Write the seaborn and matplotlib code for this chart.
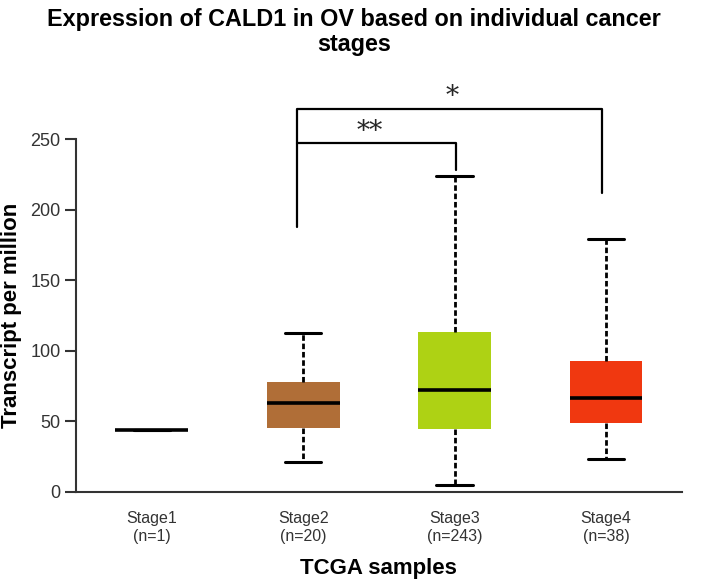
import numpy as np
import pandas as pd
import matplotlib
matplotlib.use("Agg")
import matplotlib.pyplot as plt
import seaborn as sns

# five-number summaries (min, q1, median, q3, max)
stages = ["Stage1", "Stage2", "Stage3", "Stage4"]
counts = [1, 20, 243, 38]
stage1_tpm = [43.8]
stage2_tpm = [20.9, 45.4, 63.2, 78.0, 112.8]
stage3_tpm = [4.8, 44.5, 72.1, 113.1, 224.0]
stage4_tpm = [23.2, 49.0, 66.3, 92.7, 179.0]
colors = ["#000000", "#B06E37", "#AED214", "#F03810"]

rows = []
for stage, vals in zip(stages, [stage1_tpm, stage2_tpm, stage3_tpm, stage4_tpm]):
    for v in vals:
        rows.append({"stage": stage, "tpm": v})
df = pd.DataFrame(rows)

sns.set_style("white")
plt.rcParams["font.family"] = ["Liberation Sans", "DejaVu Sans"]

fig = plt.figure(figsize=(7.08, 5.8), dpi=100)
ax = fig.add_axes([0.1073, 0.152, 0.8557, 0.608])

sns.boxplot(data=df, x="stage", y="tpm", hue="stage", palette=colors, legend=False,
            order=stages, whis=(0, 100), width=0.48, linecolor="black", ax=ax,
            saturation=1,
            boxprops=dict(linewidth=0),
            medianprops=dict(color="black", linewidth=2.6),
            whiskerprops=dict(color="black", linewidth=2, linestyle=(0, (2.0, 1.0))),
            capprops=dict(color="black", linewidth=2.2),
            capwidths=0.24)

# Stage1 has a single sample: just the median bar
ax.set_xlim(-0.5, 3.5)
ax.set_ylim(0, 250)
ax.set_yticks([0, 50, 100, 150, 200, 250])
ax.set_xticks(range(4))
ax.set_xticklabels([f"{s}\n(n={n})" for s, n in zip(stages, counts)],
                   linespacing=1.25)
ax.tick_params(axis="y", length=8, width=1.5, color="#333333", labelsize=13,
               labelcolor="#333333", pad=3, direction="out", left=True)
ax.tick_params(axis="x", length=0, labelsize=11.5, labelcolor="#333333", pad=14)

for side in ["top", "right"]:
    ax.spines[side].set_visible(False)
ax.spines["left"].set_color("#333333")
ax.spines["bottom"].set_color("#333333")
ax.spines["left"].set_linewidth(1.5)
ax.spines["bottom"].set_linewidth(1.5)

ax.set_ylabel("Transcript per million", fontsize=16, fontweight="bold", labelpad=6,
              color="black")
ax.set_xlabel("TCGA samples", fontsize=16, fontweight="bold", labelpad=10, color="black")

# significance brackets
bx = 0.96
ax.plot([bx, bx, 2.01, 2.01], [188, 247, 247, 228], color="black", lw=1.6, clip_on=False)
ax.plot([bx, bx, 2.975, 2.975], [247, 271.3, 271.3, 212], color="black", lw=1.6, clip_on=False)
ax.text(1.44, 255.5, "**", ha="center", va="center", fontsize=19, family="DejaVu Serif",
        clip_on=False)
ax.text(1.985, 280.5, "*", ha="center", va="center", fontsize=19, family="DejaVu Serif",
        clip_on=False)

fig.suptitle("Expression of CALD1 in OV based on individual cancer\nstages",
             fontsize=16.8, fontweight="bold", y=0.987, linespacing=1.15, color="black")

fig.savefig("out.png", dpi=100)
